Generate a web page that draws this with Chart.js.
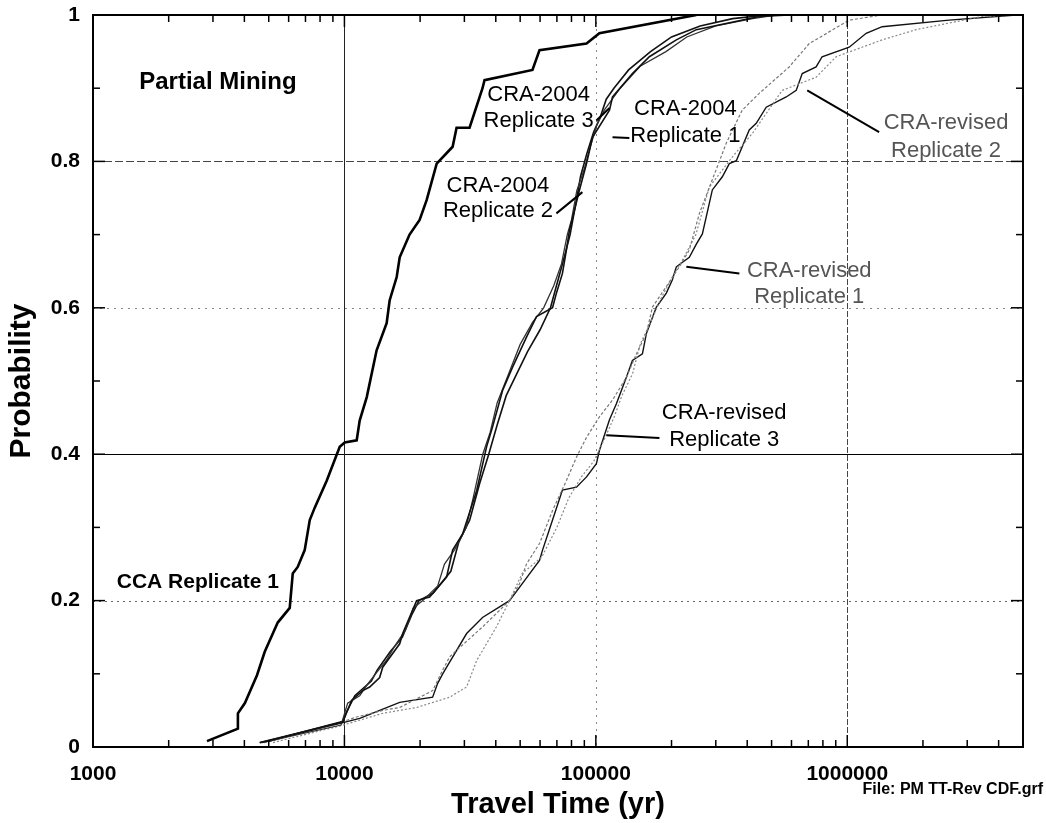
<!DOCTYPE html>
<html><head><meta charset="utf-8">
<script src="https://cdn.jsdelivr.net/npm/chart.js@4.4.0/dist/chart.umd.min.js"></script>
<style>html,body{margin:0;padding:0;background:#fff;}#wrap{width:1046px;height:823px;}</style>
</head><body><div id="wrap"><canvas id="c" width="1046" height="823"></canvas></div>
<script>
// ---- tick labels ----
const xTickValues = [1000, 10000, 100000, 1000000];
const yTickValues = [0, 0.2, 0.4, 0.6, 0.8, 1];

// ---- series (travel time [yr], probability) ----
const ccaReplicate1 = [[2840,0.008],[3770,0.025],[3770,0.046],[4020,0.06],[4490,0.098],[4820,0.13],[5430,0.17],[6060,0.19],[6230,0.237],[6520,0.246],[6950,0.269],[7280,0.31],[7620,0.327],[8510,0.364],[9580,0.41],[10030,0.416],[11190,0.419],[11500,0.446],[12270,0.478],[13430,0.542],[14720,0.579],[15130,0.61],[16140,0.642],[16590,0.669],[18160,0.70],[19910,0.72],[21230,0.747],[23280,0.797],[26940,0.82],[27930,0.846],[31460,0.846],[35420,0.90],[36080,0.911],[55970,0.925],[59700,0.952],[91830,0.961],[103300,0.975],[251000,1.0]];

const cra2004Rep1 = [[4610,0.006],[9850,0.034],[10690,0.064],[11830,0.077],[12600,0.082],[13810,0.095],[14200,0.109],[16590,0.141],[17050,0.155],[19370,0.2],[21820,0.205],[25480,0.232],[26190,0.25],[26940,0.269],[29510,0.291],[33560,0.35],[36760,0.41],[38810,0.437],[42560,0.487],[46650,0.519],[52990,0.56],[58070,0.588],[67260,0.6],[69690,0.62],[73640,0.647],[76380,0.679],[78540,0.706],[86070,0.761],[91830,0.797],[97010,0.833],[113300,0.87],[116500,0.888],[139800,0.92],[163300,0.943],[209000,0.966],[251000,0.98],[446500,0.998],[587000,1.0]];

const cra2004Rep2 = [[4700,0.006],[9700,0.03],[10300,0.06],[11500,0.07],[12300,0.085],[13300,0.1],[14800,0.12],[16000,0.14],[17500,0.16],[18800,0.19],[20500,0.2],[23500,0.22],[25000,0.25],[27500,0.27],[30500,0.3],[32500,0.34],[35500,0.4],[38000,0.43],[40500,0.47],[45000,0.51],[50000,0.55],[56000,0.58],[62000,0.6],[68000,0.63],[73000,0.66],[77000,0.7],[80000,0.72],[84000,0.76],[90000,0.79],[95000,0.82],[101000,0.85],[108000,0.87],[125000,0.9],[150000,0.93],[190000,0.95],[230000,0.97],[300000,0.985],[420000,0.995],[520000,1.0]];

const cra2004Rep3 = [[5000,0.008],[9900,0.035],[10100,0.045],[11000,0.07],[12800,0.09],[13500,0.105],[15200,0.13],[17000,0.15],[18500,0.18],[19800,0.2],[22500,0.21],[26500,0.24],[28500,0.28],[31500,0.31],[34500,0.36],[37500,0.4],[40500,0.44],[44000,0.48],[48500,0.51],[53500,0.54],[60000,0.57],[66000,0.6],[71000,0.64],[75000,0.67],[79000,0.7],[83000,0.74],[87000,0.78],[92000,0.81],[98000,0.84],[104000,0.86],[110000,0.885],[118000,0.9],[135000,0.925],[165000,0.95],[200000,0.97],[260000,0.985],[350000,0.995],[480000,1.0]];

const craRevRep1 = [[4800,0.006],[9000,0.03],[11190,0.041],[14200,0.05],[16590,0.054],[22430,0.077],[24590,0.105],[26190,0.123],[28750,0.136],[35420,0.164],[45360,0.2],[49690,0.223],[52990,0.25],[59700,0.278],[67260,0.323],[76380,0.364],[83750,0.396],[91830,0.423],[103300,0.451],[116500,0.474],[132300,0.505],[145000,0.537],[158900,0.565],[167900,0.601],[190700,0.629],[214800,0.656],[235400,0.679],[258200,0.729],[330300,0.825],[382100,0.87],[446700,0.893],[587500,0.929],[705900,0.961],[1018000,0.993],[1377000,1.0]];

const craRevRep2 = [[5200,0.006],[9900,0.03],[14200,0.046],[19370,0.054],[26190,0.068],[30620,0.082],[33560,0.118],[40200,0.164],[45360,0.2],[50890,0.237],[60810,0.259],[70000,0.3],[78000,0.34],[88000,0.37],[98000,0.39],[108000,0.42],[118000,0.45],[127000,0.48],[140000,0.51],[150000,0.55],[165000,0.58],[180000,0.61],[200000,0.64],[225000,0.67],[250000,0.7],[282700,0.765],[348900,0.806],[418900,0.838],[551000,0.897],[751700,0.915],[903600,0.943],[1377000,0.966],[1878000,0.98],[3436000,0.998],[4950000,1.0]];

const craRevRep3 = [[4600,0.006],[9800,0.033],[11500,0.039],[16590,0.061],[22430,0.068],[23490,0.087],[24590,0.1],[30620,0.155],[35420,0.177],[45360,0.2],[49690,0.218],[59700,0.255],[61380,0.269],[67260,0.31],[73640,0.351],[83750,0.355],[91830,0.369],[100500,0.387],[103300,0.405],[113300,0.447],[120700,0.469],[132300,0.505],[139800,0.528],[153200,0.537],[158900,0.565],[174100,0.601],[190700,0.62],[201400,0.638],[209000,0.656],[235400,0.669],[251000,0.687],[265300,0.701],[290600,0.761],[318500,0.779],[339600,0.797],[362100,0.801],[407500,0.843],[434500,0.852],[476100,0.874],[571700,0.888],[626500,0.897],[662100,0.92],[751700,0.929],[794300,0.943],[1018000,0.956],[1189000,0.975],[1377000,0.984],[2541000,0.993],[4690000,1.0]];

// ---- annotation texts (anchored in data coordinates) ----
const labelTexts = [
  {text:'Partial Mining', x:3140, y:0.908, kind:'bold24'},
  {text:'CCA Replicate 1', x:2612, y:0.225, kind:'bold21'},
  {text:'CRA-2004', x:59200, y:0.891, kind:'reg'},
  {text:'Replicate 3', x:59200, y:0.855, kind:'reg'},
  {text:'CRA-2004', x:227000, y:0.871, kind:'reg'},
  {text:'Replicate 1', x:227000, y:0.835, kind:'reg'},
  {text:'CRA-2004', x:40800, y:0.767, kind:'reg'},
  {text:'Replicate 2', x:40800, y:0.733, kind:'reg'},
  {text:'CRA-revised', x:2471000, y:0.852, kind:'gray'},
  {text:'Replicate 2', x:2471000, y:0.814, kind:'gray'},
  {text:'CRA-revised', x:706000, y:0.651, kind:'gray'},
  {text:'Replicate 1', x:706000, y:0.615, kind:'gray'},
  {text:'CRA-revised', x:324000, y:0.456, kind:'reg'},
  {text:'Replicate 3', x:324000, y:0.419, kind:'reg'}
];
const leaderLines = [
  [100500,0.856,113300,0.873],
  [116500,0.833,135900,0.832],
  [69700,0.729,88400,0.758],
  [693000,0.897,1339000,0.840],
  [229100,0.656,372300,0.647],
  [110200,0.426,179000,0.422]
];

const FONT = '"Liberation Sans", Arial, Helvetica, sans-serif';
const toXY = a => a.map(p => ({x:p[0], y:p[1]}));
function ds(label, arr, color, width, dash){
  return {label, data: toXY(arr), borderColor: color, borderWidth: width, borderDash: dash || [],
    pointRadius: 0, showLine: true, fill: false, tension: 0};
}

const decor = {
  id: 'decor',
  beforeDatasetsDraw(chart){
    const {ctx, chartArea:a, scales:{x, y}} = chart;
    ctx.save();
    ctx.lineWidth = 1;
    const hgrid = [[0.2,'#666',[2,4]],[0.4,'#000',[]],[0.6,'#888',[2,5]],[0.8,'#444',[8,3]]];
    hgrid.forEach(([v,c,d])=>{
      const py = Math.round(y.getPixelForValue(v)) + 0.5;
      ctx.strokeStyle = c; ctx.setLineDash(d);
      ctx.beginPath(); ctx.moveTo(a.left, py); ctx.lineTo(a.right, py); ctx.stroke();
    });
    const vgrid = [[10000,'#222',[]],[100000,'#888',[2,5]],[1000000,'#444',[6,2]]];
    vgrid.forEach(([v,c,d])=>{
      const px = Math.round(x.getPixelForValue(v)) + 0.5;
      ctx.strokeStyle = c; ctx.setLineDash(d);
      ctx.beginPath(); ctx.moveTo(px, a.top); ctx.lineTo(px, a.bottom); ctx.stroke();
    });
    ctx.restore();
  },
  afterDatasetsDraw(chart){
    const {ctx, chartArea:a, scales:{x, y}} = chart;
    ctx.save();
    ctx.setLineDash([]);
    ctx.strokeStyle = '#000';
    ctx.lineWidth = 1.5;
    for (let e = 3; e <= 6; e++) {
      for (let m = 1; m <= 9; m++) {
        const v = m * Math.pow(10, e);
        if (v > x.max) continue;
        const px = x.getPixelForValue(v);
        const len = m === 1 ? 12 : 7;
        ctx.beginPath(); ctx.moveTo(px, a.bottom); ctx.lineTo(px, a.bottom - len); ctx.stroke();
        ctx.beginPath(); ctx.moveTo(px, a.top); ctx.lineTo(px, a.top + len); ctx.stroke();
      }
    }
    for (let i = 0; i <= 10; i++) {
      const v = i / 10;
      const py = y.getPixelForValue(v);
      const len = (i % 2 === 0) ? 12 : 7;
      ctx.beginPath(); ctx.moveTo(a.left, py); ctx.lineTo(a.left + len, py); ctx.stroke();
      ctx.beginPath(); ctx.moveTo(a.right, py); ctx.lineTo(a.right - len, py); ctx.stroke();
    }
    ctx.lineWidth = 2;
    ctx.strokeRect(a.left, a.top, a.right - a.left, a.bottom - a.top);
    leaderLines.forEach(([x1,y1,x2,y2])=>{
      ctx.beginPath();
      ctx.moveTo(x.getPixelForValue(x1), y.getPixelForValue(y1));
      ctx.lineTo(x.getPixelForValue(x2), y.getPixelForValue(y2));
      ctx.stroke();
    });
    ctx.textAlign = 'center'; ctx.textBaseline = 'middle';
    labelTexts.forEach(t=>{
      if (t.kind === 'bold24') { ctx.font = 'bold 24px ' + FONT; ctx.fillStyle = '#000'; }
      else if (t.kind === 'bold21') { ctx.font = 'bold 21px ' + FONT; ctx.fillStyle = '#000'; }
      else if (t.kind === 'gray') { ctx.font = '22px ' + FONT; ctx.fillStyle = '#555'; }
      else { ctx.font = '22px ' + FONT; ctx.fillStyle = '#000'; }
      ctx.fillText(t.text, x.getPixelForValue(t.x), y.getPixelForValue(t.y));
    });
    ctx.font = 'bold 16px ' + FONT; ctx.fillStyle = '#000';
    ctx.textAlign = 'right';
    ctx.fillText('File: PM TT-Rev CDF.grf', 1043, 790);
    ctx.restore();
  }
};

new Chart(document.getElementById('c'), {
  type: 'scatter',
  data: {
    datasets: [
      ds('CCA Replicate 1', ccaReplicate1, '#000', 2.6),
      ds('CRA-2004 Replicate 1', cra2004Rep1, '#111', 1.6),
      ds('CRA-2004 Replicate 2', cra2004Rep2, '#333', 1.3),
      ds('CRA-2004 Replicate 3', cra2004Rep3, '#111', 1.6),
      ds('CRA-revised Replicate 1', craRevRep1, '#777', 1.2, [3,2]),
      ds('CRA-revised Replicate 2', craRevRep2, '#888', 1.2, [2,2]),
      ds('CRA-revised Replicate 3', craRevRep3, '#111', 1.4)
    ]
  },
  options: {
    responsive: false,
    animation: false,
    devicePixelRatio: 1,
    layout: {padding: {top: 15, right: 23, left: 0, bottom: 0}},
    plugins: {legend: {display: false}, tooltip: {enabled: false}},
    scales: {
      x: {
        type: 'logarithmic', position: 'bottom', min: 1000, max: 5000000,
        grid: {display: false, drawTicks: false},
        border: {display: false},
        afterBuildTicks: s => { s.ticks = xTickValues.map(v => ({value: v, major: true})); },
        afterFit: s => { s.height = 76; },
        ticks: {autoSkip: false, maxRotation: 0, padding: 15, color: '#000',
          font: {family: FONT, size: 21, weight: 'bold'}, callback: v => String(v)},
        title: {display: true, text: 'Travel Time (yr)', color: '#000',
          font: {family: FONT, size: 29, weight: 'bold'}, padding: {top: 0, bottom: 1}}
      },
      y: {
        type: 'linear', min: 0, max: 1,
        grid: {display: false, drawTicks: true, tickLength: 13},
        border: {display: false},
        afterBuildTicks: s => { s.ticks = yTickValues.map(v => ({value: v})); },
        afterFit: s => { s.width = 93; },
        ticks: {padding: 0, color: '#000', font: {family: FONT, size: 21, weight: 'bold'},
          callback: v => String(v)},
        title: {display: true, text: 'Probability', color: '#000',
          font: {family: FONT, size: 30, weight: 'bold'}, padding: {top: 4, bottom: 0}}
      }
    }
  },
  plugins: [decor]
});
</script></body></html>
